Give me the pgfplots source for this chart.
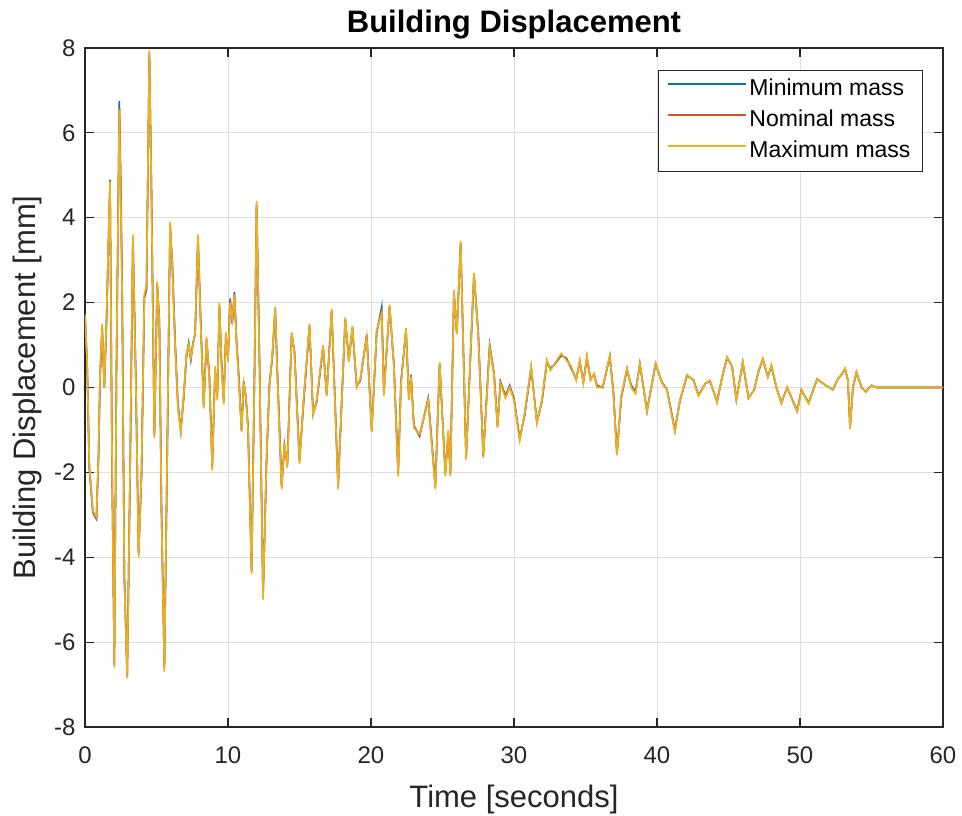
\documentclass[border=0pt]{standalone}
\usepackage{pgfplots}
\pgfplotsset{compat=1.18}
\usepackage{pgfplotstable}
\usepackage{fontspec}
\setmainfont{Liberation Sans}
\definecolor{mblue}{rgb}{0,0.447,0.741}
\definecolor{morange}{rgb}{0.85,0.325,0.098}
\definecolor{myellow}{rgb}{0.929,0.694,0.125}
\definecolor{axgray}{rgb}{0.15,0.15,0.15}

\pgfplotstableread{
t y
0 1.7
0.15 0.6
0.3 -1.8
0.55 -2.9
0.8 -3.05
0.95 -1.5
1.05 0.3
1.2 1.5
1.35 0.0
1.5 1.6
1.75 4.85
1.9 -2.0
2.05 -6.6
2.2 0.5
2.4 6.55
2.5 4.4
2.6 2.1
2.75 -4.5
2.95 -6.85
3.15 -2.0
3.35 3.6
3.55 0.2
3.75 -4.0
3.95 -2.0
4.15 2.2
4.3 2.4
4.5 7.95
4.65 4.5
4.85 -1.2
5.05 2.5
5.2 1.5
5.35 -3.0
5.55 -6.7
5.75 -1.5
5.95 3.9
6.1 2.9
6.3 1.0
6.5 -0.5
6.7 -1.05
6.9 -0.2
7.1 0.8
7.25 1.0
7.4 0.7
7.55 1.0
7.7 1.3
7.9 3.6
8.1 1.4
8.3 -0.5
8.5 1.2
8.7 0.2
8.9 -1.95
9.1 0.5
9.25 -0.3
9.4 2.0
9.55 0.5
9.7 -0.4
9.85 1.3
10.0 0.6
10.15 2.0
10.3 1.6
10.45 2.2
10.6 1.0
10.75 0.2
10.95 -1.05
11.1 0.1
11.25 -0.2
11.4 -1.0
11.65 -4.4
11.85 0.2
12.0 4.4
12.2 0.6
12.45 -5.0
12.7 -1.6
12.9 0.0
13.1 0.8
13.3 1.9
13.45 0.3
13.75 -2.4
13.95 -1.3
14.15 -1.9
14.45 1.3
14.65 0.8
15.0 -1.8
15.3 -0.2
15.7 1.5
15.95 -0.65
16.2 -0.3
16.65 1.0
16.9 -0.2
17.25 1.85
17.7 -2.4
18.2 1.65
18.45 0.6
18.7 1.45
19.0 0.0
19.25 0.2
19.7 1.2
20.05 -1.05
20.4 1.35
20.75 1.75
20.9 -0.2
21.3 1.95
21.6 0.5
21.9 -2.1
22.1 0.1
22.45 1.4
22.65 -0.3
22.8 0.25
23.0 -0.95
23.4 -1.1
24.0 -0.3
24.5 -2.4
24.8 0.6
25.2 -2.1
25.4 -1.0
25.55 -2.1
25.8 2.3
26.0 1.25
26.27 3.45
26.65 -1.7
27.2 2.7
27.5 1.25
27.85 -1.65
28.3 0.95
28.6 0.3
28.85 -0.95
29.05 0.1
29.4 -0.25
29.7 0.0
30.0 -0.3
30.4 -1.25
30.75 -0.6
31.2 0.5
31.6 -0.85
31.95 -0.3
32.3 0.65
32.55 0.4
32.85 0.57
33.3 0.8
33.65 0.65
34.0 0.5
34.35 0.17
34.6 0.65
34.85 0.1
35.1 0.75
35.35 0.17
35.6 0.33
35.8 0.0
36.2 0.0
36.7 0.76
36.95 -0.15
37.2 -1.6
37.5 -0.2
37.9 0.45
38.2 0.0
38.5 -0.15
38.8 0.57
39.3 -0.57
39.9 0.57
40.35 0.1
40.7 -0.06
41.25 -1.05
41.6 -0.3
42.1 0.3
42.55 0.17
42.9 -0.2
43.4 0.1
43.7 0.17
44.2 -0.35
44.55 0.25
44.9 0.72
45.25 0.5
45.55 -0.3
46.0 0.6
46.4 -0.26
46.8 -0.05
47.1 0.4
47.4 0.68
47.75 0.25
48.0 0.53
48.35 0.0
48.7 -0.38
49.1 0.0
49.8 -0.57
50.1 -0.06
50.6 -0.38
51.2 0.2
51.8 0.05
52.3 -0.05
52.65 0.2
52.9 0.3
53.15 0.45
53.35 0.17
53.5 -0.97
53.7 0.0
53.95 0.37
54.3 0.0
54.6 -0.1
55.0 0.05
55.35 0.0
60 0.0
}\maxmass

\pgfplotstableread{
t y
0 1.75
0.15 0.5
0.3 -1.9
0.55 -2.95
0.8 -3.1
0.95 -1.6
1.05 0.2
1.2 1.4
1.35 0.0
1.5 1.5
1.75 4.8
1.9 -2.1
2.05 -6.5
2.2 0.4
2.4 6.75
2.5 4.9
2.6 2.3
2.75 -4.4
2.95 -6.8
3.15 -2.1
3.35 3.5
3.55 0.3
3.75 -3.9
3.95 -2.1
4.15 2.1
4.3 2.3
4.5 7.85
4.65 4.6
4.85 -1.1
5.05 2.4
5.2 1.6
5.35 -2.9
5.55 -6.6
5.75 -1.6
5.95 3.8
6.1 3.0
6.3 1.1
6.5 -0.4
6.7 -1.0
6.9 -0.25
7.1 0.75
7.25 1.05
7.4 0.65
7.55 1.05
7.7 1.25
7.9 3.5
8.1 1.5
8.3 -0.4
8.5 1.1
8.7 0.3
8.9 -1.85
9.1 0.4
9.25 -0.2
9.4 1.9
9.55 0.6
9.7 -0.3
9.85 1.2
10.0 0.7
10.15 2.1
10.3 1.5
10.45 2.25
10.6 1.1
10.75 0.3
10.95 -1.0
11.1 0.15
11.25 -0.25
11.4 -0.9
11.65 -4.3
11.85 0.3
12.0 4.3
12.2 0.7
12.45 -4.9
12.7 -1.7
12.9 0.1
13.1 0.7
13.3 1.85
13.45 0.4
13.75 -2.3
13.95 -1.4
14.15 -1.8
14.45 1.25
14.65 0.85
15.0 -1.7
15.3 -0.3
15.7 1.45
15.95 -0.6
16.2 -0.35
16.65 0.95
16.9 -0.15
17.25 1.8
17.7 -2.3
18.2 1.6
18.45 0.65
18.7 1.4
19.0 0.05
19.25 0.15
19.7 1.25
20.05 -1.0
20.4 1.3
20.75 1.9
20.9 -0.1
21.3 1.9
21.6 0.55
21.9 -2.0
22.1 0.15
22.45 1.35
22.65 -0.25
22.8 0.3
23.0 -0.9
23.4 -1.15
24.0 -0.25
24.5 -2.3
24.8 0.55
25.2 -2.0
25.4 -1.1
25.55 -2.0
25.8 2.2
26.0 1.3
26.27 3.4
26.65 -1.65
27.2 2.65
27.5 1.3
27.85 -1.6
28.3 1.0
28.6 0.35
28.85 -0.9
29.05 0.15
29.4 -0.2
29.7 0.05
30.0 -0.25
30.4 -1.2
30.75 -0.65
31.2 0.45
31.6 -0.8
31.95 -0.35
32.3 0.6
32.55 0.45
32.85 0.55
33.3 0.75
33.65 0.7
34.0 0.45
34.35 0.2
34.6 0.6
34.85 0.15
35.1 0.7
35.35 0.2
35.6 0.3
35.8 0.05
36.2 0.0
36.7 0.72
36.95 -0.1
37.2 -1.55
37.5 -0.25
37.9 0.42
38.2 0.05
38.5 -0.1
38.8 0.55
39.3 -0.55
39.9 0.55
40.35 0.12
40.7 -0.05
41.25 -1.0
41.6 -0.32
42.1 0.28
42.55 0.18
42.9 -0.18
43.4 0.1
43.7 0.15
44.2 -0.33
44.55 0.24
44.9 0.7
45.25 0.5
45.55 -0.28
46.0 0.58
46.4 -0.25
46.8 -0.05
47.1 0.38
47.4 0.66
47.75 0.26
48.0 0.5
48.35 0.0
48.7 -0.36
49.1 0.0
49.8 -0.55
50.1 -0.06
50.6 -0.36
51.2 0.2
51.8 0.05
52.3 -0.05
52.65 0.2
52.9 0.3
53.15 0.43
53.35 0.17
53.5 -0.95
53.7 0.0
53.95 0.36
54.3 0.0
54.6 -0.1
55.0 0.05
55.35 0.0
60 0.0
}\minmass

\pgfplotstableread{
t y
0 1.72
0.15 0.55
0.3 -1.85
0.55 -2.92
0.8 -3.08
0.95 -1.55
1.05 0.25
1.2 1.45
1.35 0.0
1.5 1.55
1.75 4.9
1.9 -2.05
2.05 -6.55
2.2 0.45
2.4 6.6
2.5 4.6
2.6 2.2
2.75 -4.45
2.95 -6.82
3.15 -2.05
3.35 3.55
3.55 0.25
3.75 -3.95
3.95 -2.05
4.15 2.15
4.3 2.35
4.5 7.9
4.65 4.55
4.85 -1.15
5.05 2.45
5.2 1.55
5.35 -2.95
5.55 -6.65
5.75 -1.55
5.95 3.85
6.1 2.95
6.3 1.05
6.5 -0.45
6.7 -1.02
6.9 -0.22
7.1 0.78
7.25 1.02
7.4 0.68
7.55 1.02
7.7 1.28
7.9 3.55
8.1 1.45
8.3 -0.45
8.5 1.15
8.7 0.25
8.9 -1.9
9.1 0.45
9.25 -0.25
9.4 1.95
9.55 0.55
9.7 -0.35
9.85 1.25
10.0 0.65
10.15 2.05
10.3 1.55
10.45 2.2
10.6 1.05
10.75 0.25
10.95 -1.02
11.1 0.12
11.25 -0.22
11.4 -0.95
11.65 -4.35
11.85 0.25
12.0 4.35
12.2 0.65
12.45 -4.95
12.7 -1.65
12.9 0.05
13.1 0.75
13.3 1.88
13.45 0.35
13.75 -2.35
13.95 -1.35
14.15 -1.85
14.45 1.28
14.65 0.82
15.0 -1.75
15.3 -0.25
15.7 1.48
15.95 -0.62
16.2 -0.32
16.65 0.98
16.9 -0.18
17.25 1.82
17.7 -2.35
18.2 1.62
18.45 0.62
18.7 1.42
19.0 0.02
19.25 0.18
19.7 1.22
20.05 -1.02
20.4 1.32
20.75 1.8
20.9 -0.15
21.3 1.92
21.6 0.52
21.9 -2.05
22.1 0.12
22.45 1.38
22.65 -0.28
22.8 0.28
23.0 -0.92
23.4 -1.12
24.0 -0.28
24.5 -2.35
24.8 0.58
25.2 -2.05
25.4 -1.05
25.55 -2.05
25.8 2.25
26.0 1.28
26.27 3.42
26.65 -1.68
27.2 2.68
27.5 1.28
27.85 -1.62
28.3 0.98
28.6 0.32
28.85 -0.92
29.05 0.12
29.4 -0.22
29.7 0.02
30.0 -0.28
30.4 -1.22
30.75 -0.62
31.2 0.48
31.6 -0.82
31.95 -0.32
32.3 0.62
32.55 0.42
32.85 0.56
33.3 0.78
33.65 0.68
34.0 0.48
34.35 0.18
34.6 0.62
34.85 0.12
35.1 0.72
35.35 0.18
35.6 0.32
35.8 0.02
36.2 0.0
36.7 0.74
36.95 -0.12
37.2 -1.58
37.5 -0.22
37.9 0.44
38.2 0.02
38.5 -0.12
38.8 0.56
39.3 -0.56
39.9 0.56
40.35 0.11
40.7 -0.05
41.25 -1.02
41.6 -0.31
42.1 0.29
42.55 0.17
42.9 -0.19
43.4 0.1
43.7 0.16
44.2 -0.34
44.55 0.24
44.9 0.71
45.25 0.5
45.55 -0.29
46.0 0.59
46.4 -0.25
46.8 -0.05
47.1 0.39
47.4 0.67
47.75 0.25
48.0 0.52
48.35 0.0
48.7 -0.37
49.1 0.0
49.8 -0.56
50.1 -0.06
50.6 -0.37
51.2 0.2
51.8 0.05
52.3 -0.05
52.65 0.2
52.9 0.3
53.15 0.44
53.35 0.17
53.5 -0.96
53.7 0.0
53.95 0.36
54.3 0.0
54.6 -0.1
55.0 0.05
55.35 0.0
60 0.0
}\nommass

\begin{document}
\begin{tikzpicture}[x=1pt,y=1pt]
\useasboundingbox (0,0) rectangle (962,816);
\begin{axis}[
  at={(85pt,89pt)}, anchor=south west,
  width=858pt, height=679pt, scale only axis,
  xmin=0, xmax=60, ymin=-8, ymax=8,
  xtick={0,10,...,60}, ytick={-8,-6,...,8},
  grid=major,
  major grid style={draw=black!13, line width=0.8pt},
  axis line style={draw=axgray, line width=1.1pt},
  tick style={draw=axgray, line width=1.1pt},
  tick align=inside, major tick length=9pt,
  xtick pos=both, ytick pos=both,
  /pgf/number format/assume math mode=true,
  ticklabel style={font=\fontsize{24}{28}\selectfont, text=axgray},
  xticklabel style={yshift=-16pt},
  yticklabel style={xshift=-6pt},
  title={\textbf{Building Displacement}},
  title style={font=\fontsize{31}{36}\selectfont, at={(axis description cs:0.5,1)}, anchor=base, yshift=9pt},
  xlabel={Time [seconds]},
  ylabel={Building Displacement [mm]},
  label style={font=\fontsize{31}{36}\selectfont, text=axgray},
  xlabel style={at={([yshift=-81pt]axis description cs:0.5,0)}, anchor=base},
  ylabel style={at={([xshift=-49pt]axis description cs:0,0.5)}, anchor=base},
  legend style={at={(0.9767,0.9676)}, anchor=north east,
    font=\fontsize{23}{27}\selectfont, draw=axgray, line width=1pt,
    row sep=0pt, column sep=0pt, inner xsep=9pt, inner ysep=4pt,
    nodes={inner xsep=3pt, inner ysep=5pt, text height=16pt, text depth=5pt},
    cells={anchor=west}},
  legend cell align=left,
  legend image code/.code={\draw[#1, line width=1.4pt] (0pt,6pt) -- (78pt,6pt);},
]
\addplot[mblue, line width=1.6pt] table[x=t,y=y] {\minmass};
\addlegendentry{Minimum mass}
\addplot[morange, line width=1.6pt] table[x=t,y=y] {\nommass};
\addlegendentry{Nominal mass}
\addplot[myellow, line width=1.6pt] table[x=t,y=y] {\maxmass};
\addlegendentry{Maximum mass}
\end{axis}
\end{tikzpicture}
\end{document}
